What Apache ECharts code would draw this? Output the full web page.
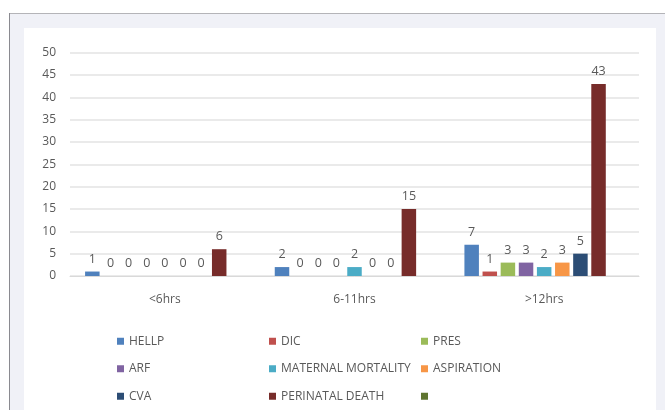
<!DOCTYPE html>
<html>
<head>
<meta charset="utf-8">
<script src="https://cdn.jsdelivr.net/npm/echarts@6/dist/echarts.min.js"></script>
<style>
  html, body { margin: 0; padding: 0; background: #ffffff; }
  #chart { width: 665px; height: 410px; }
</style>
</head>
<body>
<div id="chart"></div>
<script>
// Time-to-delivery groups and complication counts
const categories = ['<6hrs', '6-11hrs', '>12hrs'];
const seriesNames = ['HELLP', 'DIC', 'PRES', 'ARF', 'MATERNAL MORTALITY', 'ASPIRATION', 'CVA', 'PERINATAL DEATH', ' '];
const hellp = [1, 2, 7];
const dic = [0, 0, 1];
const pres = [0, 0, 3];
const arf = [0, 0, 3];
const maternalMortality = [0, 2, 2];
const aspiration = [0, 0, 3];
const cva = [0, 0, 5];
const perinatalDeath = [6, 15, 43];
const blankSeries = [null, null, null];
const yTicks = { min: 0, max: 50, interval: 5 };

const seriesValues = [hellp, dic, pres, arf, maternalMortality, aspiration, cva, perinatalDeath, blankSeries];
const colors = ['#4f81bd', '#c0504d', '#9bbb59', '#8064a2', '#4bacc6', '#f79646', '#2c4d75', '#772c2a', '#5f7530'];

const font = '"Open Sans", "Noto Sans", sans-serif';
const textColor = '#595959';

const chart = echarts.init(document.getElementById('chart'), null, { renderer: 'canvas' });

// three legend columns, each stacking three entries
const legendBase = {
  orient: 'vertical',
  top: 334,
  height: 76,
  padding: 0,
  itemWidth: 7,
  itemHeight: 7,
  itemGap: 13,
  icon: 'rect',
  selectedMode: false,
  textStyle: { color: textColor, fontFamily: font, fontSize: 12, lineHeight: 14.5 }
};

chart.setOption({
  animation: false,
  color: colors,
  graphic: [
    // framed panel behind the chart
    { type: 'rect', z: -10, shape: { x: 9, y: 13, width: 656, height: 397 }, style: { fill: '#f0f1f7' } },
    { type: 'rect', z: -9, shape: { x: 24, y: 28, width: 632, height: 382 }, style: { fill: '#ffffff' } },
    { type: 'line', z: -8, shape: { x1: 9, y1: 13.5, x2: 665, y2: 13.5 }, style: { stroke: '#b4b4b8', lineWidth: 1 } },
    { type: 'line', z: -8, shape: { x1: 9.5, y1: 13, x2: 9.5, y2: 410 }, style: { stroke: '#8a8a90', lineWidth: 1 } }
  ],
  grid: { left: 70, right: 26, top: 52.7, bottom: 134, containLabel: false },
  xAxis: {
    type: 'category',
    data: categories,
    axisLine: { lineStyle: { color: '#d9d9d9', width: 1 } },
    axisTick: { show: false },
    axisLabel: { color: textColor, fontFamily: font, fontSize: 12, margin: 18 }
  },
  yAxis: {
    type: 'value',
    min: yTicks.min,
    max: yTicks.max,
    interval: yTicks.interval,
    axisLine: { show: false },
    axisTick: { show: false },
    axisLabel: { color: textColor, fontFamily: font, fontSize: 12, margin: 14 },
    splitLine: { lineStyle: { color: '#e3e3e3', width: 1.5 } }
  },
  legend: [
    Object.assign({}, legendBase, { left: 117, data: ['HELLP', 'ARF', 'CVA'] }),
    Object.assign({}, legendBase, { left: 269, data: ['DIC', 'MATERNAL MORTALITY', 'PERINATAL DEATH'] }),
    Object.assign({}, legendBase, { left: 421, data: ['PRES', 'ASPIRATION', ' '] })
  ],
  series: seriesNames.map((name, i) => ({
    name: name,
    type: 'bar',
    data: seriesValues[i],
    barWidth: 14.5,
    barGap: '25%',
    label: {
      show: true,
      position: 'top',
      distance: 6,
      color: textColor,
      fontFamily: font,
      fontSize: 12.5
    }
  }))
});
</script>
</body>
</html>
